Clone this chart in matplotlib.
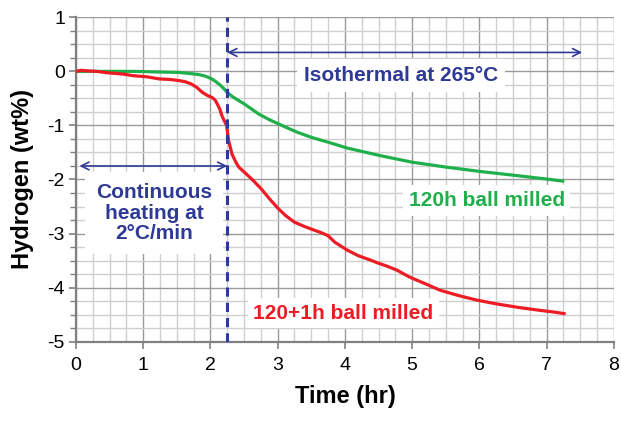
import matplotlib.pyplot as plt
from matplotlib.ticker import MultipleLocator

plt.rcParams['font.family'] = ['Liberation Sans', 'DejaVu Sans']
plt.rcParams['axes.unicode_minus'] = False

# 120+1h ball milled (red)
t_red = [0.0, 0.08, 0.16, 0.3, 0.5, 0.7, 0.85, 1.05, 1.24, 1.4, 1.53, 1.62, 1.71, 1.8, 1.88,
         1.96, 2.02, 2.07, 2.1, 2.14, 2.17, 2.2, 2.24, 2.27, 2.32, 2.37, 2.42, 2.5, 2.57, 2.66,
         2.76, 2.88, 3.01, 3.12, 3.25, 3.4, 3.55, 3.66, 3.75, 3.85, 3.95, 4.04, 4.2, 4.38,
         4.48, 4.62, 4.78, 4.88, 4.97, 5.2, 5.42, 5.7, 5.96, 6.25, 6.6, 6.9, 7.1, 7.26]
h_red = [0.0, 0.02, 0.01, 0.0, -0.03, -0.05, -0.08, -0.1, -0.14, -0.15, -0.17, -0.19, -0.23,
         -0.3, -0.39, -0.45, -0.48, -0.53, -0.6, -0.7, -0.82, -0.9, -1.0, -1.28, -1.53, -1.66,
         -1.77, -1.86, -1.94, -2.05, -2.18, -2.36, -2.54, -2.67, -2.79, -2.87, -2.94, -2.99,
         -3.04, -3.16, -3.24, -3.31, -3.41, -3.49, -3.54, -3.6, -3.68, -3.75, -3.81, -3.93,
         -4.05, -4.15, -4.23, -4.3, -4.37, -4.42, -4.45, -4.48]

# 120h ball milled (green)
t_green = [0.0, 0.4, 0.85, 1.2, 1.53, 1.7, 1.83, 1.93, 2.02, 2.08, 2.15, 2.2, 2.25, 2.33,
           2.42, 2.5, 2.57, 2.65, 2.72, 2.87, 3.01, 3.15, 3.3, 3.5, 3.75, 4.04, 4.53, 5.0,
           5.5, 6.0, 6.5, 6.99, 7.24]
h_green = [0.0, 0.0, 0.0, -0.01, -0.02, -0.04, -0.06, -0.09, -0.14, -0.19, -0.26, -0.32,
           -0.39, -0.47, -0.54, -0.6, -0.66, -0.73, -0.79, -0.89, -0.97, -1.05, -1.13,
           -1.22, -1.31, -1.42, -1.56, -1.68, -1.77, -1.85, -1.92, -1.99, -2.03]

t_switch = 2.25  # start of isothermal part

RED = '#ed1c24'
GREEN = '#20b04b'
BLUE = '#2e3a96'

fig = plt.figure(figsize=(6.21, 4.21), dpi=100)
ax = fig.add_axes([0.1224, 0.1884, 0.866, 0.7705])

ax.set_xlim(0, 8)
ax.set_ylim(-5, 1)
ax.xaxis.set_major_locator(MultipleLocator(1))
ax.xaxis.set_minor_locator(MultipleLocator(0.25))
ax.yaxis.set_major_locator(MultipleLocator(1))
ax.yaxis.set_minor_locator(MultipleLocator(0.25))

ax.grid(which='major', color='#9a9a9a', lw=1.0, zorder=0)
ax.grid(which='minor', color='#cfcfcf', lw=1.0, zorder=0)
ax.set_axisbelow(True)

for s in ['top', 'right']:
    ax.spines[s].set_visible(False)
for s in ['left', 'bottom']:
    ax.spines[s].set_color('#808080')
    ax.spines[s].set_linewidth(1.6)

ax.tick_params(axis='both', which='major', labelsize=14, color='#808080', width=1.2, length=5)
ax.tick_params(axis='x', which='major', pad=6)
ax.tick_params(axis='y', which='major', pad=3)
ax.tick_params(axis='x', which='minor', length=0)
ax.tick_params(axis='y', which='minor', color='#808080', width=1.0, length=4)

ax.plot(t_green, h_green, color=GREEN, lw=2.3, zorder=4)
ax.plot(t_red, h_red, color=RED, lw=2.3, zorder=4)

ax.axvline(t_switch, color=BLUE, lw=2.2, ls=(0, (3, 2)), zorder=5)

arr = dict(arrowstyle='<->', color=BLUE, lw=1.2, mutation_scale=14, shrinkA=0, shrinkB=0)
ax.annotate('', xy=(7.53, 0.35), xytext=(t_switch, 0.35), arrowprops=arr, zorder=6)
ax.annotate('', xy=(t_switch, -1.75), xytext=(0.05, -1.75), arrowprops=arr, zorder=6)

box = dict(facecolor='white', edgecolor='none', pad=4)
ax.text(4.83, -0.08, 'Isothermal at 265°C', color=BLUE, fontsize=15, fontweight='bold',
        ha='center', va='center', bbox=dict(facecolor='white', edgecolor='none', pad=5), zorder=3)
ax.text(1.16, -2.62, 'Continuous\nheating at\n2°C/min', color=BLUE, fontsize=15,
        fontweight='bold', ha='center', va='center', linespacing=1.1,
        bbox=dict(facecolor='white', edgecolor='none', pad=8), zorder=3)
ax.text(6.11, -2.39, '120h ball milled', color=GREEN, fontsize=15, fontweight='bold',
        ha='center', va='center', bbox=box, zorder=3)
ax.text(3.98, -4.47, '120+1h ball milled', color=RED, fontsize=15, fontweight='bold',
        ha='center', va='center', bbox=box, zorder=3)

ax.set_xlabel('Time (hr)', fontsize=17, fontweight='bold', labelpad=8)
ax.set_ylabel('Hydrogen (wt%)', fontsize=17, fontweight='bold', labelpad=10)

fig.savefig('out.png', dpi=100)
